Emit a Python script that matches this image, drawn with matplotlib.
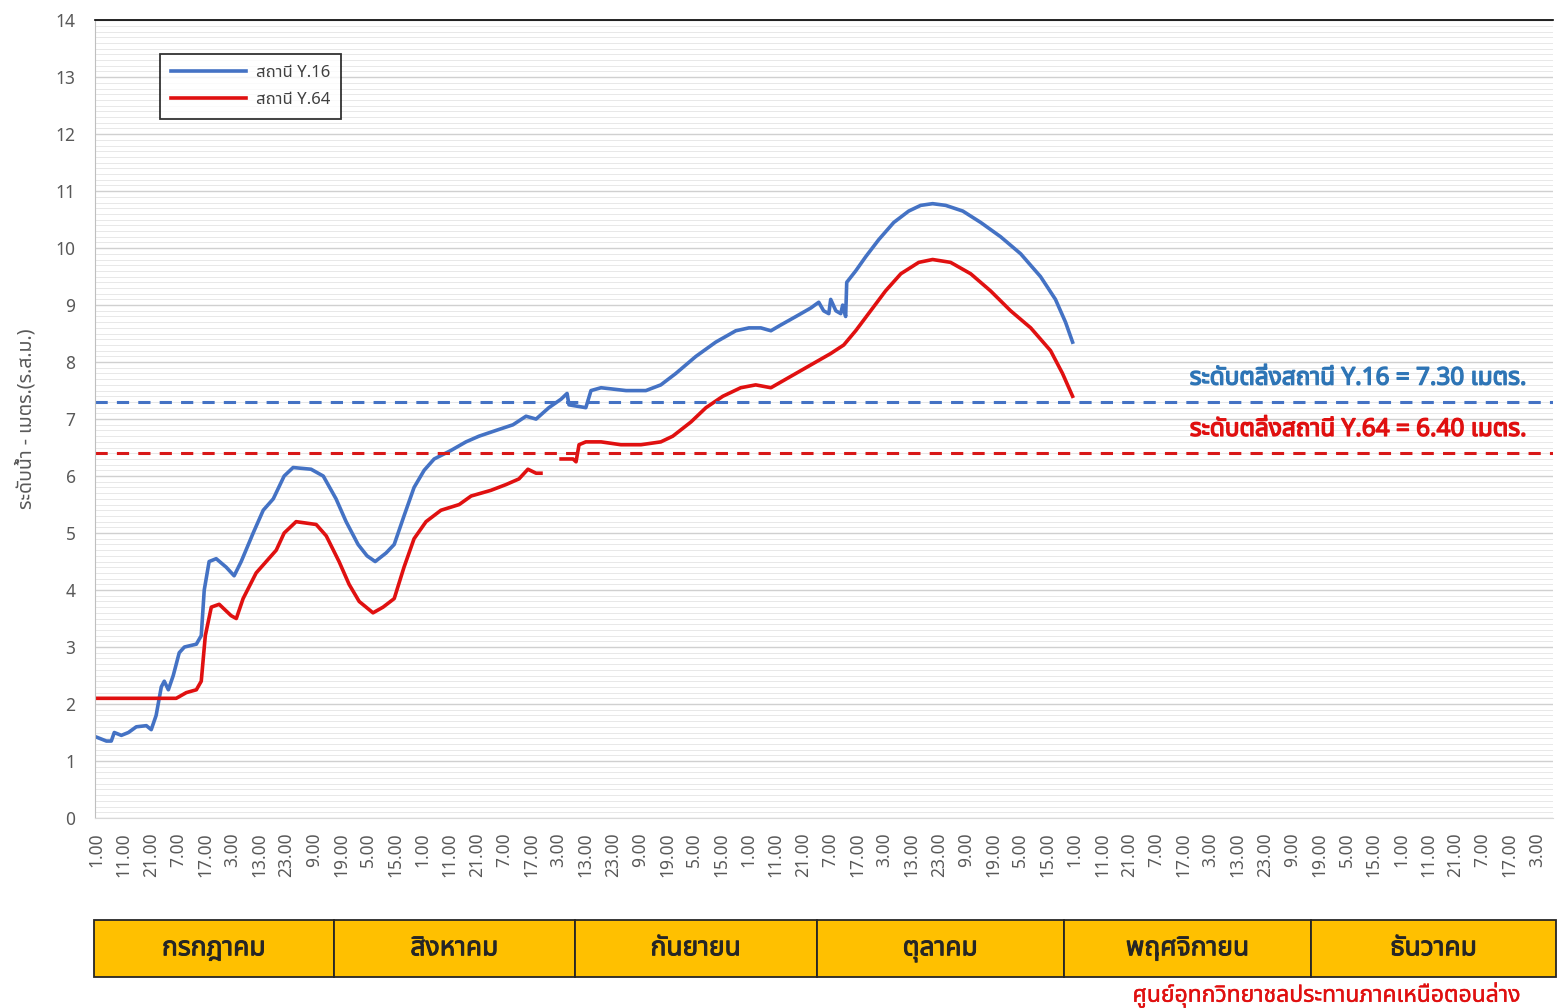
import matplotlib
matplotlib.use("Agg")
import matplotlib.pyplot as plt
import matplotlib.patheffects as pe
import numpy as np

# Thai text needs a Thai-capable font; fall back through a list
THAI = ['Tahoma', 'Noto Sans Thai', 'Noto Sans Thai UI', 'Loma', 'Garuda', 'Norasi',
        'Waree', 'Kinnari', 'DejaVu Sans']
plt.rcParams['font.family'] = THAI

# x positions are in "points" (one tick label every 10 points)
y16_x = [0, 3.7, 5.5, 6.6, 9.2, 11.8, 14.7, 18.4,
         20.2, 22, 23.9, 25, 26.5, 28.3, 30.5, 32.4,
         36.8, 38.6, 39.7, 41.5, 44.1, 47.8, 50.7, 53.3,
         57.7, 61.4, 65.1, 69.1, 72.4, 79, 83.5, 88.2,
         91.9, 96.3, 99.6, 102.6, 106.6, 109.6, 113.2, 116.9,
         120.6, 124.3, 130.5, 136, 140.8, 147, 153.3, 158.1,
         161.8, 166.5, 171, 173.2, 173.9, 180.1, 182, 185.7,
         194.9, 202.2, 207.7, 213.2, 220.6, 227.9, 235.3, 240.1,
         244.5, 248.2, 251.8, 257.4, 262.9, 265.8, 267.6, 269.5,
         270.2, 272.1, 273.9, 274.6, 275.7, 276.1, 279.4, 283.1,
         287.9, 293.4, 298.9, 303.3, 307.7, 312.5, 318.8, 325.4,
         332.7, 340.1, 347.4, 352.9, 356.6, 359.2]
y16_v = [1.42, 1.35, 1.35, 1.5, 1.45, 1.5, 1.6, 1.62,
         1.55, 1.8, 2.3, 2.4, 2.25, 2.5, 2.9, 3.0,
         3.05, 3.2, 4.0, 4.5, 4.55, 4.4, 4.25, 4.5,
         5.0, 5.4, 5.6, 6.0, 6.15, 6.12, 6.0, 5.6,
         5.2, 4.8, 4.6, 4.5, 4.65, 4.8, 5.3, 5.8,
         6.1, 6.3, 6.45, 6.6, 6.7, 6.8, 6.9, 7.05,
         7.0, 7.2, 7.35, 7.45, 7.25, 7.2, 7.5, 7.55,
         7.5, 7.5, 7.6, 7.8, 8.1, 8.35, 8.55, 8.6,
         8.6, 8.55, 8.65, 8.8, 8.95, 9.05, 8.9, 8.85,
         9.1, 8.9, 8.85, 9.0, 8.8, 9.4, 9.6, 9.85,
         10.15, 10.45, 10.65, 10.75, 10.78, 10.75, 10.65, 10.45,
         10.2, 9.9, 9.5, 9.1, 8.7, 8.35]

y64_x = [0, 29.4, 33.1, 36.8, 38.6, 40.1, 42.3, 45.2,
         49.6, 51.5, 54, 58.8, 62.5, 66.2, 69.1, 73.5,
         80.9, 84.6, 89.3, 93, 96.7, 101.8, 105.5, 109.6,
         113.2, 116.9, 121.3, 126.8, 133.5, 137.9, 145.2, 150.7,
         155.5, 158.8, 161.8, 163.6, 167.3, 171, 175.4, 176.5,
         177.6, 180.1, 185.7, 193, 200.4, 207.7, 212.1, 218.8,
         224.3, 230.5, 237.1, 242.6, 248.2, 253.7, 259.2, 264.7,
         270.2, 275, 279.4, 284.9, 290.4, 296, 302.6, 307.7,
         314.3, 321.7, 329, 336.4, 343.8, 351.1, 355.5, 359.2]
y64_v = [2.1, 2.1, 2.2, 2.25, 2.4, 3.2, 3.7, 3.75,
         3.55, 3.5, 3.85, 4.3, 4.5, 4.7, 5.0, 5.2,
         5.15, 4.95, 4.5, 4.1, 3.8, 3.6, 3.7, 3.85,
         4.4, 4.9, 5.2, 5.4, 5.5, 5.65, 5.75, 5.85,
         5.95, 6.12, 6.05, 6.05, np.nan, 6.3, 6.3, 6.25,
         6.55, 6.6, 6.6, 6.55, 6.55, 6.6, 6.7, 6.95,
         7.2, 7.4, 7.55, 7.6, 7.55, 7.7, 7.85, 8.0,
         8.15, 8.3, 8.55, 8.9, 9.25, 9.55, 9.75, 9.8,
         9.75, 9.55, 9.25, 8.9, 8.6, 8.2, 7.8, 7.4]

hour_cycle = ['1.00', '11.00', '21.00', '7.00', '17.00', '3.00',
              '13.00', '23.00', '9.00', '19.00', '5.00', '15.00']
tick_labels = (hour_cycle * 5)[:54]

months = ['กรกฎาคม', 'สิงหาคม', 'กันยายน', 'ตุลาคม', 'พฤศจิกายน', 'ธันวาคม']
month_edges = [-1, 87.5, 176, 265, 356, 447, 537]

level_y16 = 7.30
level_y64 = 6.40

blue = '#4472C4'
red = '#E01010'


def bold(color, w=1.0):
    # the Thai font has no bold face, so thicken the glyphs with a stroke
    return [pe.withStroke(linewidth=w, foreground=color)]


fig = plt.figure(figsize=(15.57, 10.08), dpi=100)
ax = fig.add_axes([0.061, 0.1885, 0.9365, 0.7915])

ax.plot(y16_x, y16_v, color=blue, lw=2.6, label='สถานี Y.16')
ax.plot(y64_x, y64_v, color=red, lw=2.6, label='สถานี Y.64')
ax.axhline(level_y16, color=blue, lw=2.2, ls=(0, (4, 3)))
ax.axhline(level_y64, color='#D81818', lw=2.2, ls=(0, (4, 3)))

ax.text(526.5, level_y16 + 0.2, f'ระดับตลิ่งสถานี Y.16 = {level_y16:.2f} เมตร.',
        color='#2E75B6', fontsize=17.5, ha='right', va='bottom', path_effects=bold('#2E75B6'))
ax.text(526.5, level_y64 + 0.2, f'ระดับตลิ่งสถานี Y.64 = {level_y64:.2f} เมตร.',
        color='#E01010', fontsize=17.5, ha='right', va='bottom', path_effects=bold('#E01010'))

ax.set_xlim(-0.5, 536)
ax.set_ylim(0, 14)
ax.set_yticks(range(0, 15))
ax.set_yticks(np.arange(0, 14.01, 0.1), minor=True)
ax.set_xticks(np.arange(len(tick_labels)) * 10)
ax.set_xticklabels(tick_labels, rotation=90, fontsize=12.5, color='#595959')
ax.tick_params(axis='y', labelsize=12.5, labelcolor='#595959', length=0, pad=14, which='both')
ax.tick_params(axis='x', length=0, pad=10)
ax.grid(axis='y', which='major', color='#D0D0D0', lw=1.0)
ax.grid(axis='y', which='minor', color='#E8E8E8', lw=0.7)
ax.set_axisbelow(True)
ax.spines['right'].set_visible(False)
ax.spines['top'].set_color('black')
ax.spines['top'].set_linewidth(1.2)
ax.spines['left'].set_color('#BFBFBF')
ax.spines['bottom'].set_color('#D9D9D9')
ax.set_ylabel('ระดับน้ำ - เมตร.(ร.ส.ม.)', fontsize=14, color='#595959', labelpad=14)

leg = ax.legend(loc='upper left', bbox_to_anchor=(0.039, 0.968), fontsize=12, frameon=True,
                fancybox=False, edgecolor='black', handlelength=4.5, borderpad=0.65,
                labelspacing=0.65, handletextpad=0.6)
leg.get_frame().set_linewidth(1.3)
for t in leg.get_texts():
    t.set_color('#404040')

# month band below the axis
mx = fig.add_axes([0.061, 0.031, 0.9365, 0.0565])
mx.set_xlim(ax.get_xlim())
mx.set_ylim(0, 1)
for i, m in enumerate(months):
    x0, x1 = month_edges[i], month_edges[i + 1]
    mx.add_patch(plt.Rectangle((x0, 0), x1 - x0, 1, facecolor='#FFC000', edgecolor='#262626',
                               lw=1.3, clip_on=False))
    mx.text((x0 + x1) / 2, 0.5, m, ha='center', va='center', fontsize=19,
            color='#262626', path_effects=bold('#262626', 0.7))
mx.axis('off')

fig.text(0.976, 0.013, 'ศูนย์อุทกวิทยาชลประทานภาคเหนือตอนล่าง', color='#E01010', fontsize=16.5,
         ha='right', va='center', path_effects=bold('#E01010', 0.3))

fig.savefig('out.png', dpi=100)
